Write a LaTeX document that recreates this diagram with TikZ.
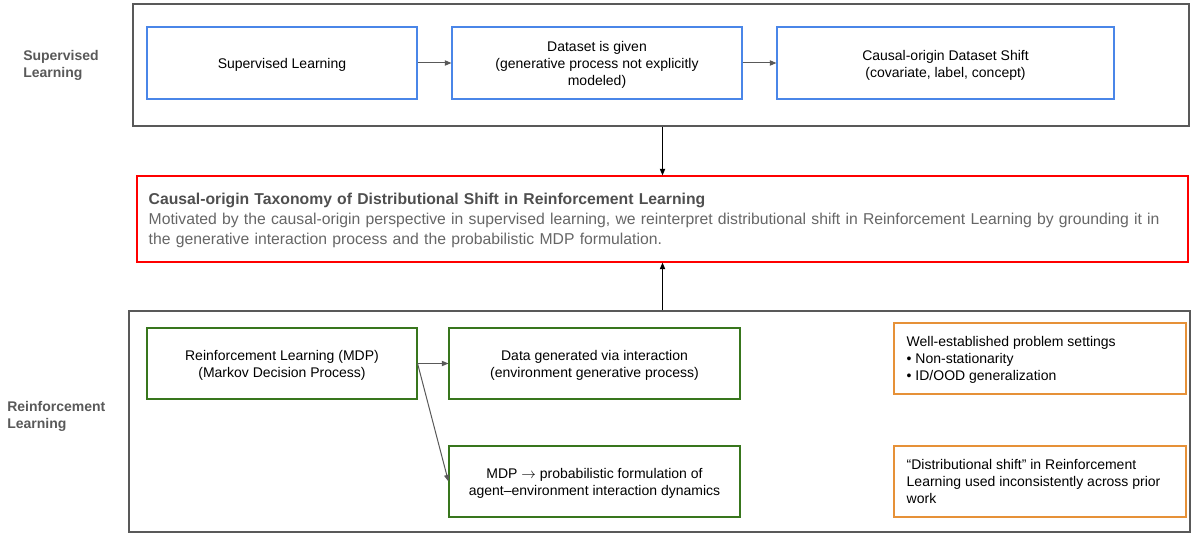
\documentclass[tikz,border=0pt]{standalone}
\usepackage{fontspec}
\setmainfont{Liberation Sans}
\usetikzlibrary{arrows.meta,calc}
\definecolor{bluebox}{HTML}{4A86E8}
\definecolor{greenbox}{HTML}{38761D}
\definecolor{redbox}{HTML}{FF0000}
\definecolor{orangebox}{HTML}{E69138}
\definecolor{framegray}{HTML}{595959}
\definecolor{labelgray}{HTML}{595959}
\definecolor{titlegray}{HTML}{4F4F4F}
\definecolor{bodygray}{HTML}{666666}
\definecolor{arrowgray}{HTML}{595959}
\newcommand{\mybtext}[1]{\raisebox{-1.9pt}[\height][\depth]{\begin{tabular}{@{}c@{}}#1\end{tabular}}}
\tikzset{
  x=0.75pt, y=-0.75pt,
  every node/.style={font=\fontsize{10.5pt}{12.75pt}\selectfont, inner sep=0pt},
  frame/.style={draw=framegray, line width=0.9pt},
  inbox/.style={draw, line width=0.85pt, minimum height=54pt},
  blue box/.style={inbox, draw=bluebox},
  green box/.style={inbox, draw=greenbox, minimum height=53.25pt},
  orange box/.style={draw=orangebox, line width=0.85pt, minimum width=219pt, minimum height=53.25pt},
  side label/.style={font=\bfseries\fontsize{10.5pt}{12.75pt}\selectfont, text=labelgray, align=left, anchor=west},
  conn/.style={draw=arrowgray, line width=0.75pt, -{Triangle[length=5pt,width=4pt]}},
  vconn/.style={draw=black, line width=0.8pt, -{Triangle[length=5pt,width=4pt]}}
}
\begin{document}
\begin{tikzpicture}
\useasboundingbox (0,0) rectangle (1191,535);
% outer frames
\node[frame, minimum width=792pt, minimum height=91.5pt] (top) at (661,65) {};
\node[frame, minimum width=795.75pt, minimum height=165.75pt] (bot) at (659.5,421.5) {};
% side labels
\node[side label] (lsl) at (23,65.5) {Supervised\\Learning};
\node[side label] (lrl) at (7,416.5) {Reinforcement\\Learning};
% supervised row
\node[blue box, minimum width=202.5pt] (sl) at (282,63) {\mybtext{Supervised Learning}};
\node[blue box, minimum width=217.5pt] (ds) at (597,63) {\mybtext{Dataset is given\\(generative process not explicitly\\modeled)}};
\node[blue box, minimum width=252.75pt] (cs) at (945.5,63) {\mybtext{Causal-origin Dataset Shift\\(covariate, label, concept)}};
% red box
\node[draw=redbox, line width=0.85pt, minimum width=788.25pt, minimum height=64.5pt] (red) at (662.5,219) {};
\node[anchor=west, align=left, text width=770pt, font=\fontsize{11.8pt}{15pt}\selectfont] (redtext) at ($(red.west)+(12,1)$)
  {{\bfseries\color{titlegray}Causal-origin Taxonomy of Distributional Shift in Reinforcement Learning}\\
   {\color{bodygray}Motivated by the causal-origin perspective in supervised learning, we reinterpret distributional shift in Reinforcement Learning by grounding it in}\\
   {\color{bodygray}the generative interaction process and the probabilistic MDP formulation.}};
% RL row
\node[green box, minimum width=202.5pt] (rl) at (282,363.5) {\mybtext{Reinforcement Learning (MDP)\\(Markov Decision Process)}};
\node[green box, minimum width=218.25pt] (dg) at (594.5,363.5) {\mybtext{Data generated via interaction\\(environment generative process)}};
\node[green box, minimum width=218.25pt] (mdp) at (594.5,481.5) {\mybtext{MDP $\rightarrow$ probabilistic formulation of\\agent–environment interaction dynamics}};
\node[orange box] (o1) at (1040,358.5) {};
\node[anchor=west, align=left] (o1text) at ($(o1.west)+(13,1.5)$) {Well-established problem settings\\• Non-stationarity\\• ID/OOD generalization};
\node[orange box] (o2) at (1040,481.5) {};
\node[anchor=west, align=left] (o2text) at ($(o2.west)+(13,0)$) {“Distributional shift” in Reinforcement\\Learning used inconsistently across prior\\work};
% connectors
\draw[conn] (sl.east) -- (ds.west);
\draw[conn] (ds.east) -- (cs.west);
\draw[conn] (rl.east) -- (dg.west);
\draw[conn] (rl.east) -- (mdp.west);
\draw[vconn] (red.north |- top.south) -- (red.north);
\draw[vconn] (red.south |- bot.north) -- (red.south);
\end{tikzpicture}
\end{document}
